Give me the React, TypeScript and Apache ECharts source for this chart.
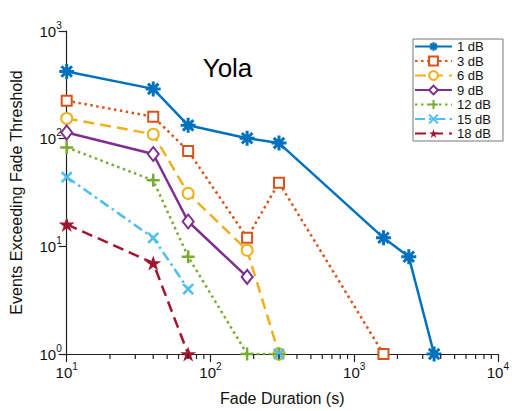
import React, { useEffect, useRef } from 'react';
import * as echarts from 'echarts';

// ---- data ----
const durations = [10, 40, 70, 180, 300, 1600, 2400, 3600];
const seriesNames = ['1 dB', '3 dB', '6 dB', '9 dB', '12 dB', '15 dB', '18 dB'];
const events1dB = [420, 290, 133, 101, 91, 12, 8, 1];
const events3dB = [225, 160, 77, 12, 39, 1];
const events6dB = [154, 110, 31, 9.2, 1];
const events9dB = [114, 72, 17, 5.2];
const events12dB = [83, 41, 8, 1, 1];
const events15dB = [44, 12, 4, null, 1];
const events18dB = [16, 7, 1];
const minorTicks = [
  20, 30, 40, 50, 60, 70, 80, 90,
  200, 300, 400, 500, 600, 700, 800, 900,
  2000, 3000, 4000, 5000, 6000, 7000, 8000, 9000,
];

const seriesValues = [events1dB, events3dB, events6dB, events9dB, events12dB, events15dB, events18dB];

const starPath =
  'path://M0 -10 L2.245 -3.09 L9.511 -3.09 L3.633 1.18 L5.878 8.09 L0 3.82 L-5.878 8.09 L-3.633 1.18 L-9.511 -3.09 L-2.245 -3.09 Z';
const asteriskPath = 'path://M0 -10 L0 10 M-10 0 L10 0 M-7 -7 L7 7 M-7 7 L7 -7';
const plusPath = 'path://M0 -10 L0 10 M-10 0 L10 0';
const crossPath = 'path://M-10 -10 L10 10 M-10 10 L10 -10';

const styles = [
  { color: '#0072BD', symbol: asteriskPath, size: 15, dash: 'solid', border: 3 },
  { color: '#D95319', symbol: 'emptyRect', size: 10, dash: [2.5, 3.5], border: 3 },
  { color: '#EDB120', symbol: 'emptyCircle', size: 11, dash: [11, 6], border: 2.5 },
  { color: '#7E2F8E', symbol: 'emptyDiamond', size: [11, 14], dash: 'solid', border: 2.5 },
  { color: '#77AC30', symbol: plusPath, size: 13, dash: [2.5, 3.5], border: 2.5 },
  { color: '#4DBEEE', symbol: crossPath, size: 10, dash: [10, 4, 2.5, 4], border: 2.5 },
  { color: '#A2142F', symbol: starPath, size: 16, dash: [11, 6], border: 0 },
];

const supLabel = (v: number) => '{base|10}{sup|' + Math.round(Math.log10(v)) + '}';
const axisColor = '#222';
const font = 'Arial';
const richLabel = {
  base: { fontSize: 15, color: '#111', fontFamily: font },
  sup: { fontSize: 10, padding: [0, 0, 12, 0], color: '#111', fontFamily: font },
};

const titleGraphic = {
  type: 'text',
  x: 227.5,
  y: 68,
  style: {
    text: 'Yola',
    font: '26px Arial',
    fill: '#000',
    textAlign: 'center',
    textVerticalAlign: 'middle',
  },
};

export default function App() {
  const ref = useRef<HTMLDivElement>(null);
  useEffect(() => {
    if (!ref.current) return;
    const chart = echarts.init(ref.current, null, { renderer: 'svg' });
    const lineSeries = seriesNames.map((name, i) => {
      const st = styles[i];
      const vals = seriesValues[i];
      return {
        name,
        type: 'line',
        clip: false,
        showSymbol: true,
        showAllSymbol: true,
        symbol: st.symbol,
        symbolSize: st.size,
        symbolKeepAspect: true,
        data: vals.map((v, j) => [durations[j], v == null ? '-' : v]),
        lineStyle: { color: st.color, width: 2.5, type: st.dash as any, cap: 'butt' },
        itemStyle: { color: st.color, borderColor: st.color, borderWidth: st.border },
        emphasis: { disabled: true },
        z: 3 + i,
      };
    });
    chart.setOption({
      animation: false,
      backgroundColor: '#fff',
      textStyle: { fontFamily: font },
      grid: { left: 66.7, right: 12, top: 31, bottom: 51 },
      graphic: [titleGraphic],
      legend: {
        orient: 'vertical',
        left: 413,
        top: 39,
        data: seriesNames,
        backgroundColor: '#fff',
        borderColor: '#777',
        borderWidth: 1,
        padding: [1, 12, 1, 1],
        itemWidth: 37,
        itemHeight: 11,
        itemGap: 1.5,
        textStyle: { fontSize: 13, lineHeight: 12, color: '#111', fontFamily: font },
      },
      xAxis: {
        type: 'log',
        logBase: 10,
        min: 10,
        max: 10000,
        name: 'Fade Duration (s)',
        nameLocation: 'middle',
        nameGap: 36,
        nameTextStyle: { fontSize: 16, color: '#111', fontFamily: font },
        axisLine: { show: true, lineStyle: { color: axisColor, width: 1.2 } },
        axisTick: { show: true, length: 8, lineStyle: { color: axisColor, width: 1.2 } },
        splitLine: { show: false },
        axisLabel: {
          formatter: supLabel,
          margin: 7,
          rich: richLabel,
        },
      },
      yAxis: {
        type: 'log',
        logBase: 10,
        min: 1,
        max: 1000,
        name: 'Events Exceeding Fade Threshold',
        nameLocation: 'middle',
        nameGap: 42,
        nameTextStyle: { fontSize: 16, color: '#111', fontFamily: font },
        axisLine: { show: true, lineStyle: { color: axisColor, width: 1.2 } },
        axisTick: { show: true, length: 8, lineStyle: { color: axisColor, width: 1.2 } },
        splitLine: { show: false },
        axisLabel: {
          formatter: supLabel,
          margin: 5,
          rich: richLabel,
        },
      },
      series: lineSeries,
    });
    // minor ticks on the log x axis, placed through the axis scale
    const y0 = chart.convertToPixel({ yAxisIndex: 0 }, 1) as number;
    const tickGraphics = minorTicks.map((v) => {
      const x = chart.convertToPixel({ xAxisIndex: 0 }, v) as number;
      return {
        type: 'line',
        silent: true,
        z: 50,
        shape: { x1: x, y1: y0, x2: x, y2: y0 + 5 },
        style: { stroke: axisColor, lineWidth: 1.2 },
      };
    });
    chart.setOption({ graphic: [titleGraphic, ...tickGraphics] });
    return () => chart.dispose();
  }, []);
  return (
    <div
      ref={ref}
      style={{ position: 'fixed', left: 0, top: 0, width: 512, height: 411 }}
    />
  );
}
